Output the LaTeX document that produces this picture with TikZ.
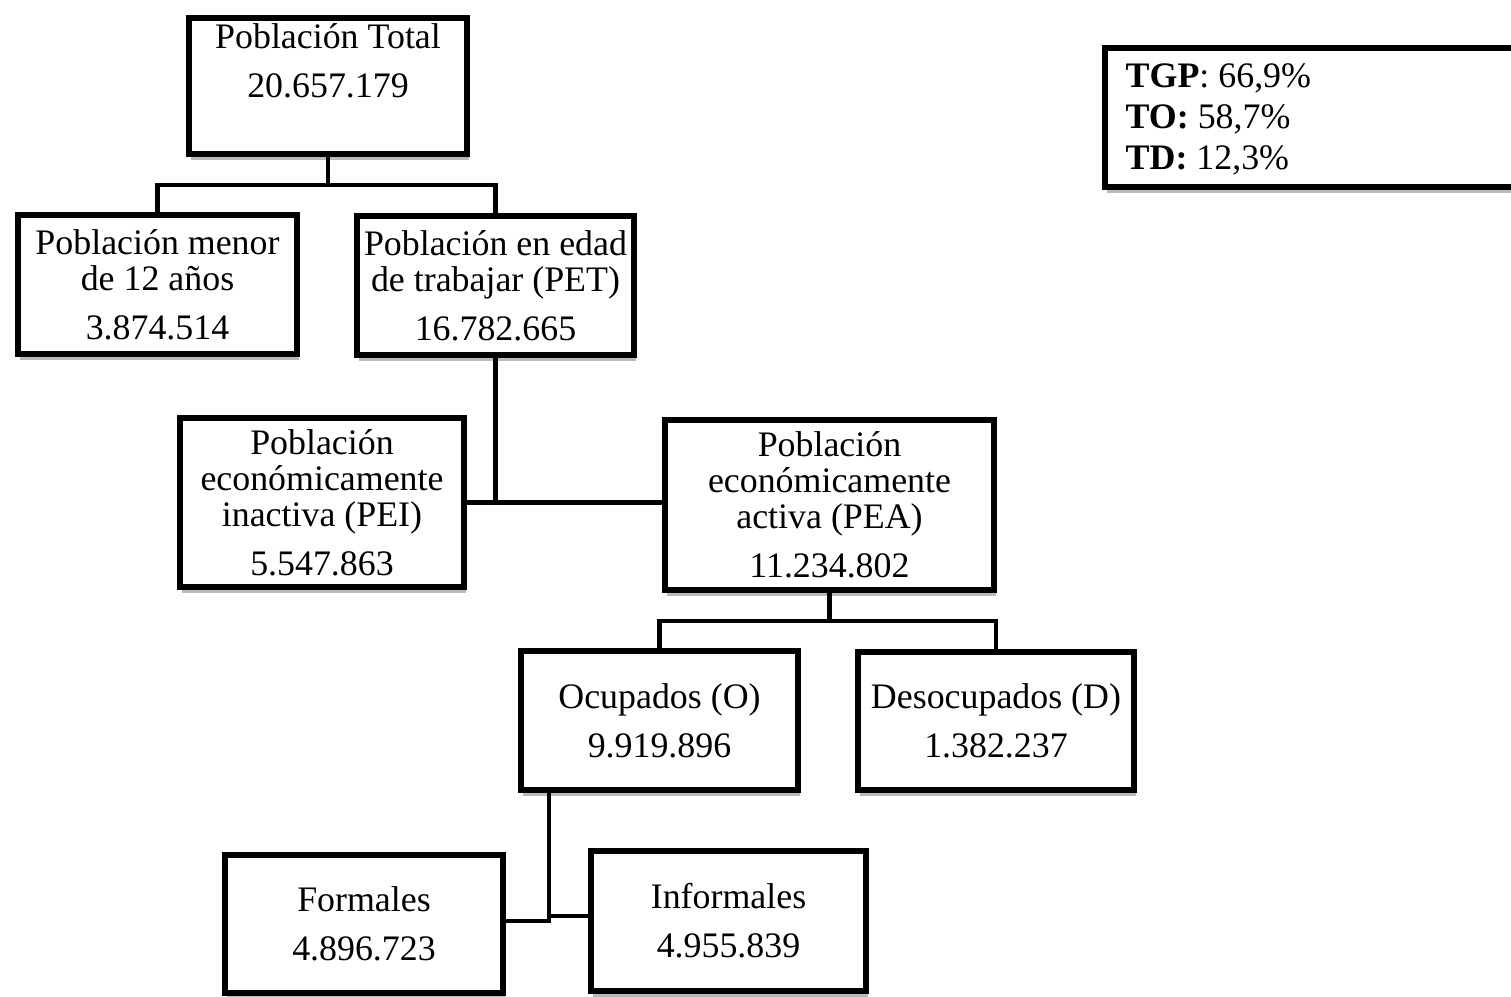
\documentclass[tikz,border=0pt]{standalone}
\usepackage{fontspec}
\setmainfont{Liberation Serif}
\usetikzlibrary{shadows}
\begin{document}
\begin{tikzpicture}[x=0.01cm,y=-0.01cm,
  box/.style={draw=black, line width=1.7pt, fill=white, rectangle, inner sep=0pt,
    align=center, font=\fontsize{10.2}{10.24}\selectfont,
    drop shadow={shadow xshift=0.6pt, shadow yshift=-1.6pt, fill=black!45, opacity=0.6}},
  conn/.style={line width=1.15pt, black},
  vals/.style={align=left, inner sep=0pt, font=\fontsize{10.2}{11.7}\selectfont}]
\useasboundingbox (0,0) rectangle (1511,997);
\node[box, minimum width=2.78cm, minimum height=1.36cm] (tot) at (328,86)
  {Población Total\\[3.7pt]20.657.179\\[4pt]{}};
\node[box, minimum width=2.79cm, minimum height=1.39cm] (menor) at (157.5,284.5)
  {Población menor\\de 12 años\\[3.7pt]3.874.514};
\node[box, minimum width=2.77cm, minimum height=1.39cm] (pet) at (495.5,285.5)
  {Población en edad\\de trabajar (PET)\\[3.7pt]16.782.665};
\node[box, minimum width=2.84cm, minimum height=1.69cm] (pei) at (322,502.5)
  {Población\\económicamente\\inactiva (PEI)\\[3.7pt]5.547.863};
\node[box, minimum width=3.29cm, minimum height=1.70cm] (pea) at (829.5,505)
  {Población\\económicamente\\activa (PEA)\\[3.7pt]11.234.802};
\node[box, minimum width=2.77cm, minimum height=1.39cm] (ocu) at (659.5,720.5)
  {Ocupados (O)\\[3.7pt]9.919.896};
\node[box, minimum width=2.76cm, minimum height=1.38cm] (des) at (996,721)
  {Desocupados (D)\\[3.7pt]1.382.237};
\node[box, minimum width=2.78cm, minimum height=1.38cm] (form) at (364,924)
  {Formales\\[3.7pt]4.896.723};
\node[box, minimum width=2.75cm, minimum height=1.40cm] (inf) at (728.5,921)
  {Informales\\[3.7pt]4.955.839};
\node[box, minimum width=4.22cm, minimum height=1.39cm] (tbox) at (1316,117.5) {};
\node[vals, anchor=west] (tvals) at (1125,119)
  {\textbf{TGP}: 66,9\%\\\textbf{TO:} 58,7\%\\\textbf{TD:} 12,3\%};
% connectors
\coordinate (j1) at (328,185);
\draw[conn] (tot.south) -- (j1);
\draw[conn] (menor.north) |- (j1) -| (pet.north);
\draw[conn] (pet.south) |- (pei.east);
\draw[conn] (pei.east) -- (pei.east -| pea.west);
\coordinate (j3) at (829.5,621);
\draw[conn] (pea.south) -- (j3);
\draw[conn] (ocu.north) |- (j3) -| (des.north);
\coordinate (j4) at (549,921);
\coordinate (j5) at (549,916);
\draw[conn] (ocu.south -| j4) -- (j4) -- (j4 -| form.east);
\draw[conn] (inf.west |- j5) -- (j5);
\end{tikzpicture}
\end{document}
